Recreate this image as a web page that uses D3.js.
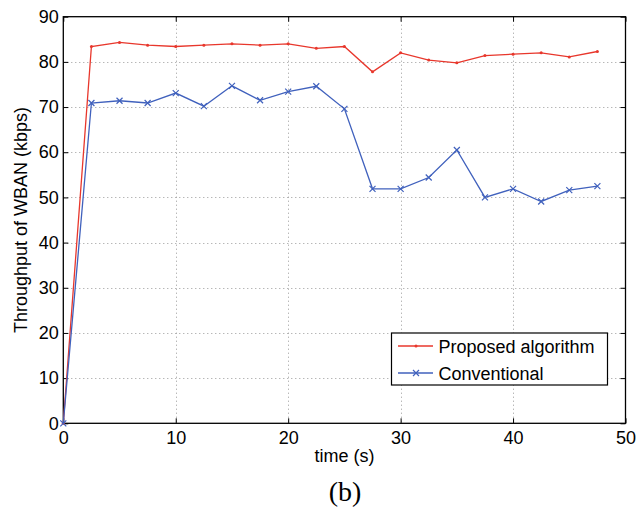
<!DOCTYPE html>
<html>
<head>
<meta charset="utf-8">
<script src="https://cdn.jsdelivr.net/npm/d3@7"></script>
<style>
  body { margin: 0; background: #fff; }
  svg { display: block; }
</style>
</head>
<body>
<svg id="chart"></svg>
<script>
// data
const timeValues = [0, 2.5, 5, 7.5, 10, 12.5, 15, 17.5, 20, 22.5, 25, 27.5, 30, 32.5, 35, 37.5, 40, 42.5, 45, 47.5];
const proposedValues = [0, 83.4, 84.3, 83.7, 83.4, 83.7, 84.0, 83.7, 84.0, 83.0, 83.4, 77.8, 82.0, 80.4, 79.8, 81.4, 81.7, 82.0, 81.1, 82.3];
const conventionalValues = [0, 70.9, 71.4, 70.9, 73.1, 70.2, 74.7, 71.5, 73.4, 74.6, 69.6, 51.9, 51.9, 54.4, 60.5, 50.0, 51.9, 49.1, 51.6, 52.5];
const xTicks = [0, 10, 20, 30, 40, 50];
const yTicks = [0, 10, 20, 30, 40, 50, 60, 70, 80, 90];
const seriesNames = ["Proposed algorithm", "Conventional"];

const dims = { width: 641, height: 511, left: 63.3, right: 625.5, top: 16.7, bottom: 423.3 };
const red = "#e8372c", blue = "#4061bd";
const font = "'Liberation Sans', Helvetica, Arial, sans-serif";
const fs = 18;

const svg = d3.select("#chart")
    .attr("width", dims.width)
    .attr("height", dims.height);

const x = d3.scaleLinear().domain([0, 50]).range([dims.left, dims.right]);
const y = d3.scaleLinear().domain([0, 90]).range([dims.bottom, dims.top]);

// grid
const grid = svg.append("g")
    .attr("stroke", "#999")
    .attr("stroke-width", 1)
    .attr("stroke-dasharray", "1,3");
grid.selectAll(".gx").data(xTicks.slice(1, -1)).enter().append("line")
    .attr("x1", d => Math.round(x(d)) + 0.5).attr("x2", d => Math.round(x(d)) + 0.5)
    .attr("y1", dims.top).attr("y2", dims.bottom);
grid.selectAll(".gy").data(yTicks.slice(1, -1)).enter().append("line")
    .attr("y1", d => Math.round(y(d)) + 0.5).attr("y2", d => Math.round(y(d)) + 0.5)
    .attr("x1", dims.left).attr("x2", dims.right);

// axes (ticks inward, mirrored on top/right)
const tickLen = 5;
svg.append("g")
    .attr("transform", `translate(0,${dims.bottom})`)
    .call(d3.axisBottom(x).tickValues(xTicks).tickSizeInner(-tickLen).tickSizeOuter(0).tickPadding(8))
    .call(g => g.select(".domain").remove())
    .call(g => g.selectAll("text").attr("font-size", fs).attr("font-family", font).attr("fill", "#000"));
svg.append("g")
    .attr("transform", `translate(${dims.left},0)`)
    .call(d3.axisLeft(y).tickValues(yTicks).tickSizeInner(-tickLen).tickSizeOuter(0).tickPadding(4.5))
    .call(g => g.select(".domain").remove())
    .call(g => g.selectAll("text").attr("font-size", fs).attr("font-family", font).attr("fill", "#000"));
svg.append("g")
    .attr("transform", `translate(0,${dims.top})`)
    .call(d3.axisTop(x).tickValues(xTicks).tickSizeInner(-tickLen).tickSizeOuter(0).tickFormat(""))
    .call(g => g.select(".domain").remove());
svg.append("g")
    .attr("transform", `translate(${dims.right},0)`)
    .call(d3.axisRight(y).tickValues(yTicks).tickSizeInner(-tickLen).tickSizeOuter(0).tickFormat(""))
    .call(g => g.select(".domain").remove());

svg.append("rect")
    .attr("x", dims.left).attr("y", dims.top)
    .attr("width", dims.right - dims.left).attr("height", dims.bottom - dims.top)
    .attr("fill", "none").attr("stroke", "#000").attr("stroke-width", 1.3);

// lines
const line = d3.line().x(d => x(d[0])).y(d => y(d[1]));
const series = [
    { name: seriesNames[0], values: proposedValues, color: red, marker: "dot" },
    { name: seriesNames[1], values: conventionalValues, color: blue, marker: "x" }
];

function drawMarker(g, kind, color) {
    if (kind === "dot") {
        g.append("circle").attr("r", 1.5).attr("fill", color);
    } else {
        g.append("path").attr("d", "M-3,-3L3,3M-3,3L3,-3")
            .attr("stroke", color).attr("stroke-width", 1.2).attr("fill", "none");
    }
}

series.forEach(s => {
    const pts = timeValues.map((t, i) => [t, s.values[i]]);
    svg.append("path")
        .datum(pts)
        .attr("fill", "none")
        .attr("stroke", s.color)
        .attr("stroke-width", 1.3)
        .attr("d", line);
    pts.forEach(p => {
        const g = svg.append("g").attr("transform", `translate(${x(p[0])},${y(p[1])})`);
        drawMarker(g, s.marker, s.color);
    });
});

// legend
const legend = svg.append("g");
legend.append("rect")
    .attr("x", 391.5).attr("y", 333).attr("width", 216).attr("height", 52)
    .attr("fill", "#fff").attr("stroke", "#000").attr("stroke-width", 1.2);
series.forEach((s, i) => {
    const ly = 346 + i * 27;
    legend.append("line")
        .attr("x1", 398).attr("x2", 433).attr("y1", ly).attr("y2", ly)
        .attr("stroke", s.color).attr("stroke-width", 1.3);
    const g = legend.append("g").attr("transform", `translate(416,${ly})`);
    drawMarker(g, s.marker, s.color);
    legend.append("text")
        .attr("x", 438.5).attr("y", ly + 6.5)
        .attr("font-size", fs).attr("font-family", font)
        .text(s.name);
});

// labels
svg.append("text")
    .attr("x", (dims.left + dims.right) / 2).attr("y", 462)
    .attr("text-anchor", "middle")
    .attr("font-size", fs).attr("font-family", font)
    .text("time (s)");
svg.append("text")
    .attr("transform", `translate(26.5,${(dims.top + dims.bottom) / 2}) rotate(-90)`)
    .attr("text-anchor", "middle")
    .attr("font-size", fs).attr("font-family", font)
    .text("Throughput of WBAN (kbps)");
svg.append("text")
    .attr("x", 345).attr("y", 501)
    .attr("text-anchor", "middle")
    .attr("font-size", 28).attr("font-family", "'Liberation Serif', 'Times New Roman', serif")
    .text("(b)");
</script>
</body>
</html>
